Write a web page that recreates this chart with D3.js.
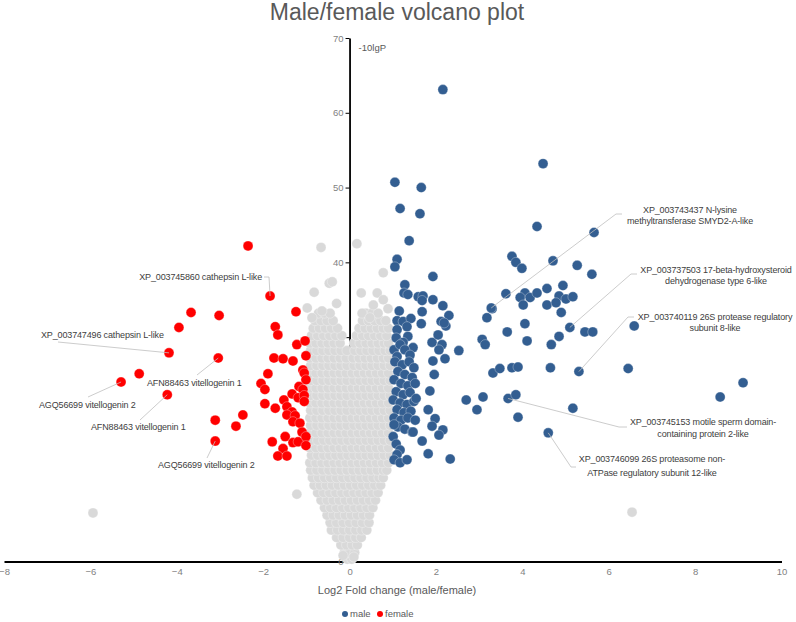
<!DOCTYPE html>
<html><head><meta charset="utf-8">
<script src="https://cdn.jsdelivr.net/npm/d3@7"></script>
<style>
body{margin:0;background:#fff;}
svg{display:block;}
text{font-family:"Liberation Sans",Arial,sans-serif;}
</style></head>
<body><svg id="c" width="796" height="622"></svg>
<script>
const title = "Male/female volcano plot";
const xTicks = [-8,-6,-4,-2,0,2,4,6,8,10];
const yTicks = [0,10,20,30,40,50,60,70];
const seriesNames = ["male","female"];

// male (up-regulated) points [log2FC, -10lgP]
const maleData = [
[2.16,63.1],[1.05,50.7],[1.66,50.0],[1.17,47.2],[1.63,46.5],[1.38,42.9],[1.10,40.4],[1.05,39.4],[1.93,38.1],
[1.28,37.0],[1.26,35.9],[1.35,35.7],[1.59,35.4],[1.70,35.5],[1.68,34.9],[1.93,35.0],[2.16,34.2],[2.30,32.9],
[1.15,33.5],[1.68,33.4],[1.10,32.2],[1.24,32.1],[1.42,32.5],[1.66,31.8],[2.12,32.1],[2.23,31.5],[2.19,31.9],
[1.10,31.0],[1.33,31.4],[1.08,29.9],[1.35,30.1],[1.24,29.3],[1.91,29.3],[2.05,30.3],[2.14,29.0],[2.07,28.3],
[1.47,28.6],[2.53,28.2],[1.03,28.3],[1.10,27.4],[1.93,26.8],[2.21,27.1],
[1.17,29.0],[1.28,28.3],[1.40,27.6],[1.05,26.7],[1.22,26.3],[1.38,26.7],[1.49,25.9],[1.12,25.4],[1.28,25.0],
[1.45,24.6],[1.03,24.3],[1.19,23.8],[1.35,23.5],[1.52,23.8],[1.08,22.7],[1.24,22.3],[1.40,22.6],[1.01,21.6],
[1.17,21.2],[1.33,21.0],[1.49,21.4],[1.10,20.3],[1.26,19.9],[1.42,20.1],[1.03,19.2],[1.19,18.9],[1.35,19.2],
[1.52,18.9],[1.12,18.0],[1.28,17.7],[1.45,17.3],
[1.96,25.0],[1.86,22.8],[1.54,21.8],[2.70,21.6],[3.09,22.0],[2.95,20.3],[1.82,20.3],[1.98,19.1],[1.91,18.1],
[2.16,17.6],[2.07,16.9],[1.47,17.3],[1.68,16.1],[1.82,14.4],[2.33,13.7],
[1.03,18.3],[1.01,16.7],[1.08,15.7],[1.17,14.9],[1.10,14.3],[1.03,13.6],[1.17,13.2],[1.33,13.6],
[3.30,33.8],[3.18,32.6],[3.07,29.7],[3.14,29.0],[3.32,25.2],[3.48,25.8],
[4.48,53.2],[4.34,44.8],[5.66,44.0],[3.76,40.8],[3.85,40.0],[3.99,39.2],[4.71,40.2],[5.27,39.6],[5.61,38.4],
[3.62,35.8],[3.28,33.9],[4.06,35.9],[3.95,35.3],[4.18,35.3],[4.34,35.9],[4.57,36.5],[4.94,36.9],[4.85,35.5],
[5.01,35.1],[5.17,35.4],[4.02,34.3],[4.57,34.3],[4.78,34.6],[4.90,33.3],[4.06,31.8],[3.65,30.7],[5.10,31.3],
[5.45,30.7],[5.63,30.7],[6.59,31.5],[4.11,29.5],[4.85,30.1],[4.67,29.0],[3.76,25.9],[3.90,26.0],[4.65,25.9],
[5.31,25.4],[6.45,25.8],[3.67,21.8],[3.85,22.3],[3.90,19.3],[5.17,20.5],[4.60,17.2],[9.11,23.9],[8.58,22.0]
];

// female (down-regulated) points
const femaleData = [
[-2.35,42.2],[-1.84,35.5],[-3.67,33.3],[-3.02,32.9],[-3.95,31.3],[-4.18,27.9],[-3.04,27.2],[-4.87,25.1],
[-5.29,24.0],[-4.22,22.3],[-3.11,18.9],[-2.47,19.6],[-2.63,18.1],[-3.11,16.1],[-1.24,33.4],[-1.72,31.4],
[-1.66,30.3],[-1.22,29.0],[-1.03,29.5],[-1.75,27.2],[-1.54,27.1],[-1.31,26.8],[-1.01,27.5],[-1.89,25.1],
[-1.08,25.6],[-1.05,25.2],[-1.01,24.3],[-2.05,23.8],[-1.96,23.0],[-1.17,23.4],[-1.08,23.0],[-1.33,22.4],
[-1.52,21.6],[-1.19,21.9],[-1.05,22.2],[-1.05,21.4],[-1.96,21.1],[-1.72,20.5],[-1.45,20.7],[-1.33,20.0],
[-1.45,19.6],[-1.26,19.5],[-1.31,18.7],[-1.15,18.5],[-1.49,16.7],[-1.79,16.0],[-1.31,15.9],[-1.19,16.0],
[-1.10,17.3],[-1.01,16.7],[-1.01,15.5],[-1.54,15.1],[-1.66,14.1],[-1.45,14.1]
];

// non-significant proteins, by row of -10lgP
const grayRows = [
[0.3,[-0.05,0.05]],
[1.2,[-0.12,0,0.12]],
[2.2,[-0.2,-0.07,0.06,0.18]],
[3.2,[-0.3,-0.15,0,0.14,0.27]],
[4.2,[-0.42,-0.28,-0.14,0,0.14,0.28,0.4]],
[5.2,[-0.45,-0.3,-0.15,0.0,0.15,0.3,0.45]],
[6.2,[-0.52,-0.38,-0.24,-0.1,0.04,0.18,0.32,0.46]],
[7.2,[-0.58,-0.44,-0.3,-0.16,-0.02,0.12,0.26,0.4,0.54]],
[8.2,[-0.66,-0.52,-0.38,-0.24,-0.1,0.04,0.18,0.32,0.46,0.6]],
[9.2,[-0.74,-0.6,-0.46,-0.32,-0.18,-0.04,0.1,0.24,0.38,0.52,0.66]],
[10.2,[-0.82,-0.68,-0.54,-0.4,-0.26,-0.12,0.02,0.16,0.3,0.44,0.58,0.72]],
[11.2,[-0.86,-0.72,-0.58,-0.44,-0.3,-0.16,-0.02,0.12,0.26,0.4,0.54,0.68,0.78]],
[12.2,[-0.9,-0.76,-0.62,-0.48,-0.34,-0.2,-0.06,0.08,0.22,0.36,0.5,0.64,0.78,0.86]],
[13.2,[-0.92,-0.78,-0.64,-0.5,-0.36,-0.22,-0.08,0.06,0.2,0.34,0.48,0.62,0.76,0.9]],
[14.2,[-0.88,-0.74,-0.6,-0.46,-0.32,-0.18,-0.04,0.1,0.24,0.38,0.52,0.66,0.8,0.94]],
[15.2,[-0.92,-0.78,-0.64,-0.5,-0.36,-0.22,-0.08,0.06,0.2,0.34,0.48,0.62,0.76,0.9]],
[16.2,[-0.88,-0.74,-0.6,-0.46,-0.32,-0.18,-0.04,0.1,0.24,0.38,0.52,0.66,0.8,0.94]],
[17.2,[-0.92,-0.78,-0.64,-0.5,-0.36,-0.22,-0.08,0.06,0.2,0.34,0.48,0.62,0.76,0.9]],
[18.2,[-0.9,-0.76,-0.62,-0.48,-0.34,-0.2,-0.06,0.1,0.24,0.38,0.52,0.66,0.8,0.94]],
[19.2,[-0.92,-0.78,-0.64,-0.5,-0.36,-0.22,-0.08,0.06,0.2,0.34,0.48,0.62,0.76,0.9]],
[20.2,[-0.9,-0.76,-0.62,-0.48,-0.34,-0.2,-0.06,0.1,0.24,0.38,0.52,0.66,0.8,0.94]],
[21.2,[-0.92,-0.78,-0.64,-0.5,-0.36,-0.22,-0.08,0.06,0.2,0.34,0.48,0.62,0.76,0.9]],
[22.2,[-0.9,-0.76,-0.62,-0.48,-0.34,-0.2,-0.06,0.1,0.24,0.38,0.52,0.66,0.8,0.94]],
[23.2,[-0.92,-0.78,-0.64,-0.5,-0.36,-0.22,-0.08,0.06,0.2,0.34,0.48,0.62,0.76,0.9]],
[24.2,[-0.9,-0.76,-0.62,-0.48,-0.34,-0.2,-0.06,0.1,0.24,0.38,0.52,0.66,0.8,0.94]],
[25.2,[-0.92,-0.78,-0.64,-0.5,-0.36,-0.22,-0.08,0.06,0.2,0.34,0.48,0.62,0.76,0.9]],
[26.2,[-0.9,-0.76,-0.62,-0.48,-0.34,-0.2,-0.06,0.1,0.24,0.38,0.52,0.66,0.8,0.94]],
[27.2,[-0.92,-0.78,-0.64,-0.5,-0.36,-0.22,-0.08,0.08,0.22,0.36,0.5,0.64,0.78,0.9]],
[28.2,[-0.9,-0.76,-0.62,-0.48,-0.34,-0.2,-0.06,0.12,0.26,0.4,0.54,0.68,0.82,0.94]],
[29.2,[-0.92,-0.78,-0.64,-0.5,-0.36,-0.22,0.1,0.24,0.38,0.52,0.66,0.8,0.9]],
[30.2,[-0.88,-0.74,-0.6,-0.46,-0.32,-0.18,0.16,0.3,0.44,0.58,0.72,0.86]],
[31.2,[-0.84,-0.7,-0.56,-0.42,-0.28,0.22,0.36,0.5,0.64,0.78,0.9]],
[32.2,[-0.8,-0.66,-0.52,-0.38,0.3,0.44,0.58,0.72,0.84]],
[33.2,[-0.72,-0.58,-0.45,0.38,0.52,0.66]]
];
const grayExtra = [
[-5.94,6.5],[6.54,6.6],[-1.22,9.0],[-0.66,42.0],[0.17,42.5],[-0.47,37.2],[-0.40,37.4],[-0.82,36.0],
[-0.64,33.5],[-0.98,33.9],[-0.87,32.6],[0.78,38.6],[0.27,35.9],[0.64,35.9],[0.78,35.0],[0.89,33.8],
[0.29,33.2],[0.47,32.6],[-0.3,34.5],[0.55,34.3],[-0.15,0.8],[0.1,0.6]
];

// annotations: protein label lines, target point [x,y]
const annotations = [
{lines:["XP_003745860 cathepsin L-like"], pt:[-1.84,35.5], tx:262, ty:[280], anchor:"end", leader:[[264,277],[269,277]]},
{lines:["XP_003747496  cathepsin L-like"], pt:[-4.18,27.9], tx:41, ty:[338], anchor:"start", leader:[[58,342]]},
{lines:["AFN88463 vitellogenin 1"], pt:[-3.04,27.2], tx:147, ty:[386], anchor:"start", leader:[[197,375]]},
{lines:["AGQ56699 vitellogenin 2"], pt:[-5.29,24.0], tx:39, ty:[408], anchor:"start", leader:[[88,397]]},
{lines:["AFN88463 vitellogenin 1"], pt:[-4.22,22.3], tx:91, ty:[430], anchor:"start", leader:[[140,420]]},
{lines:["AGQ56699 vitellogenin 2"], pt:[-3.11,16.1], tx:158, ty:[468], anchor:"start", leader:[[207,458]]},
{lines:["XP_003743437 N-lysine","methyltransferase SMYD2-A-like"], pt:[3.28,33.9], tx:690, ty:[213,224], anchor:"middle", leader:[[622,214],[616,214]]},
{lines:["XP_003737503 17-beta-hydroxysteroid","dehydrogenase type 6-like"], pt:[5.10,31.3], tx:716, ty:[273,284], anchor:"middle", leader:[[637,274],[631,274]]},
{lines:["XP_003740119 26S protease regulatory","subunit 8-like"], pt:[5.31,25.4], tx:715, ty:[320,331], anchor:"middle", leader:[[634,317],[628,317]]},
{lines:["XP_003745153 motile sperm domain-","containing protein  2-like"], pt:[3.67,21.8], tx:703, ty:[425,437], anchor:"middle", leader:[[627,427],[619,427]]},
{lines:["XP_003746099 26S proteasome non-","ATPase regulatory subunit 12-like"], pt:[4.60,17.2], tx:652, ty:[462,476], anchor:"middle", leader:[[576,467],[571,467]]}
];

const colors = {gray:"#d9d9d9", male:"#335e91", female:"#ff0000"};
const svg = d3.select("#c");
const x = d3.scaleLinear().domain([-8,10]).range([4,781.5]);
const y = d3.scaleLinear().domain([0,70]).range([561.5,38]);

// title
svg.append("text").attr("x",397).attr("y",20).attr("text-anchor","middle")
  .attr("font-size",23).attr("fill","#595959").text(title);

// axes
const gx = svg.append("g").attr("transform",`translate(0,${y(0)})`)
  .call(d3.axisBottom(x).tickValues(xTicks).tickSize(0).tickPadding(7).tickFormat(d3.format("d")));
gx.select(".domain").attr("stroke","#000").attr("stroke-width",2);
gx.selectAll("text").attr("fill","#7f7f7f").attr("font-size",9.5).style("font-family","'Liberation Sans',Arial,sans-serif");

const gy = svg.append("g").attr("transform",`translate(${x(0)},0)`)
  .call(d3.axisLeft(y).tickValues(yTicks).tickSize(4).tickSizeOuter(0).tickPadding(2).tickFormat(d3.format("d")));
gy.select(".domain").attr("stroke","#000").attr("stroke-width",1.8);
gy.selectAll(".tick line").attr("stroke","#000").attr("stroke-width",1);
gy.selectAll("text").attr("fill","#7f7f7f").attr("font-size",9.5).style("font-family","'Liberation Sans',Arial,sans-serif");

svg.append("text").attr("x",x(0)+9).attr("y",51).attr("font-size",9.5).attr("fill","#595959").text("-10lgP");
svg.append("text").attr("x",397).attr("y",594).attr("text-anchor","middle").attr("font-size",11)
  .attr("fill","#595959").text("Log2 Fold change (male/female)");

// points
const grayData = grayRows.flatMap(([yy,xs]) => xs.map(xx => [xx,yy])).concat(grayExtra);
const drawPts = (data,col) => svg.append("g").selectAll("circle").data(data).join("circle")
  .attr("cx",d=>x(d[0])).attr("cy",d=>y(d[1])).attr("r",5).attr("fill",col)
  .attr("stroke","#fff").attr("stroke-width",0.5).attr("stroke-opacity",0.6);
drawPts(grayData,colors.gray);
drawPts(maleData,colors.male);
drawPts(femaleData,colors.female);

// annotations
const ann = svg.append("g");
annotations.forEach(a => {
  const pts = a.leader.concat([[x(a.pt[0]), y(a.pt[1])]]);
  ann.append("path").attr("d", d3.line()(pts)).attr("fill","none").attr("stroke","#bfbfbf").attr("stroke-width",0.8);
  a.lines.forEach((l,i) => ann.append("text").attr("x",a.tx).attr("y",a.ty[i]).attr("text-anchor",a.anchor)
    .attr("font-size",9).attr("letter-spacing",-0.15).attr("fill","#404040").text(l));
});

// legend
const lg = svg.append("g").attr("transform","translate(0,617)");
[["male",colors.male,345],["female",colors.female,380]].forEach(([n,c,lx]) => {
  lg.append("circle").attr("cx",lx).attr("cy",-3).attr("r",3).attr("fill",c);
  lg.append("text").attr("x",lx+5).attr("y",0).attr("font-size",9.5).attr("fill","#595959").text(n);
});
</script></body></html>
